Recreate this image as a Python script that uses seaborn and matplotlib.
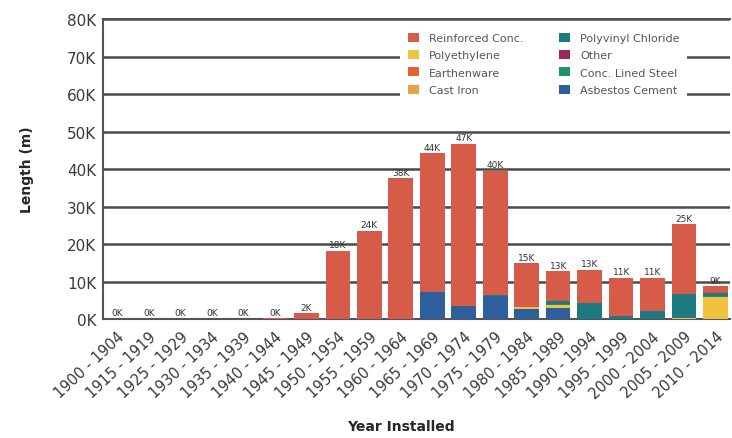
import numpy as np
import pandas as pd
import matplotlib
matplotlib.use("Agg")
import matplotlib.pyplot as plt
from matplotlib.patches import Patch
import seaborn as sns

# Installation periods
periods = ["1900 - 1904", "1915 - 1919", "1925 - 1929", "1930 - 1934", "1935 - 1939",
           "1940 - 1944", "1945 - 1949", "1950 - 1954", "1955 - 1959", "1960 - 1964",
           "1965 - 1969", "1970 - 1974", "1975 - 1979", "1980 - 1984", "1985 - 1989",
           "1990 - 1994", "1995 - 1999", "2000 - 2004", "2005 - 2009", "2010 - 2014"]

# Pipe length (m) by material for each period
asbestos_cement = [0, 0, 0, 0, 0, 0, 0, 0, 0, 0,
                   7100, 3400, 6100, 2800, 3000, 0, 0, 0, 0, 0]
polyethylene    = [0, 0, 0, 0, 0, 0, 0, 0, 0, 0,
                   0, 0, 0, 500, 700, 0, 0, 0, 200, 5800]
conc_lined_steel = [0, 0, 0, 0, 0, 0, 0, 0, 0, 0,
                    0, 0, 0, 0, 300, 0, 0, 0, 0, 300]
polyvinyl_chloride = [0, 0, 0, 0, 0, 0, 0, 0, 0, 0,
                      0, 0, 300, 0, 800, 4300, 900, 2100, 6500, 900]
other           = [0, 0, 0, 0, 0, 0, 0, 0, 0, 0,
                   0, 0, 0, 0, 0, 0, 0, 0, 0, 0]
cast_iron       = [0, 0, 0, 0, 0, 0, 0, 0, 0, 0,
                   0, 0, 0, 0, 0, 0, 0, 0, 0, 0]
earthenware     = [0, 0, 0, 0, 0, 0, 0, 0, 0, 0,
                   0, 300, 0, 0, 0, 0, 0, 0, 0, 0]
reinforced_conc = [50, 80, 60, 70, 60, 300, 1600, 18200, 23600, 37600,
                   37100, 43100, 33200, 11600, 7900, 8900, 10100, 8900, 18600, 1700]

# Stack order from bottom to top
layers = [
    ("Asbestos Cement", asbestos_cement, "#2d5e9e"),
    ("Polyethylene", polyethylene, "#f0c23e"),
    ("Conc. Lined Steel", conc_lined_steel, "#1f8f6e"),
    ("Polyvinyl Chloride", polyvinyl_chloride, "#1d7a80"),
    ("Other", other, "#a0245e"),
    ("Cast Iron", cast_iron, "#e8a345"),
    ("Earthenware", earthenware, "#df6230"),
    ("Reinforced Conc.", reinforced_conc, "#d65b48"),
]

sns.set_style("white")
plt.rcParams["font.family"] = ["DejaVu Sans"]

fig = plt.figure(figsize=(7.32, 4.39), dpi=100)
ax = fig.add_axes([0.141, 0.271, 0.856, 0.683])

# Cumulative stacks drawn from the top layer down so lower layers overlay
cum = np.cumsum(np.array([vals for _, vals, _ in layers], dtype=float), axis=0)
for i in range(len(layers) - 1, -1, -1):
    name, _, color = layers[i]
    df = pd.DataFrame({"period": periods, "length": cum[i]})
    sns.barplot(data=df, x="period", y="length", color=color, width=0.78,
                saturation=1, ax=ax, zorder=3, linewidth=0)

totals = cum[-1]
ax.bar_label(ax.containers[0], labels=[f"{int(round(t / 1000))}K" for t in totals],
             padding=1, fontsize=6.5, color="#333333")

ax.set_ylim(0, 80000)
ax.set_xlim(-0.45, len(periods) - 0.55)
yticks = np.arange(0, 80001, 10000)
ax.set_yticks(yticks)
ax.set_yticklabels([f"{int(v / 1000)}K" for v in yticks], fontsize=11, color="#3a3a3a")
ax.set_xticks(range(len(periods)))
ax.set_xticklabels(periods, rotation=43, ha="right", rotation_mode="anchor",
                   fontsize=10.5, color="#3a3a3a")
ax.tick_params(axis="y", length=0, pad=5)
ax.tick_params(axis="x", length=0, pad=7)

ax.grid(axis="y", color="#4a4a4a", linewidth=1.8, zorder=0)
ax.set_axisbelow(True)
for side in ["left", "bottom", "top"]:
    ax.spines[side].set_visible(True)
    ax.spines[side].set_color("#555555")
    ax.spines[side].set_linewidth(1.5)
ax.spines["right"].set_visible(False)

ax.set_xlabel("Year Installed", fontsize=10, fontweight="bold")
ax.xaxis.set_label_coords(0.475, -0.335)
ax.set_ylabel("Length (m)", fontsize=10, fontweight="bold")
ax.yaxis.set_label_coords(-0.11, 0.5)

legend_order = ["Reinforced Conc.", "Polyethylene", "Earthenware", "Cast Iron",
                "Polyvinyl Chloride", "Other", "Conc. Lined Steel", "Asbestos Cement"]
colors = {name: color for name, _, color in layers}
handles = [Patch(facecolor=colors[n], edgecolor="none", label=n) for n in legend_order]
leg = ax.legend(handles=handles, ncol=2, loc="upper left", bbox_to_anchor=(0.465, 1.0),
                fontsize=8, frameon=True, facecolor="white", edgecolor="none",
                framealpha=1, handlelength=1.0, handleheight=0.9, handletextpad=0.9,
                columnspacing=3.2, labelspacing=0.62, borderpad=0.7, fancybox=False)
for t in leg.get_texts():
    t.set_color("#555555")
leg.set_zorder(5)

fig.savefig("out.png", dpi=100)
